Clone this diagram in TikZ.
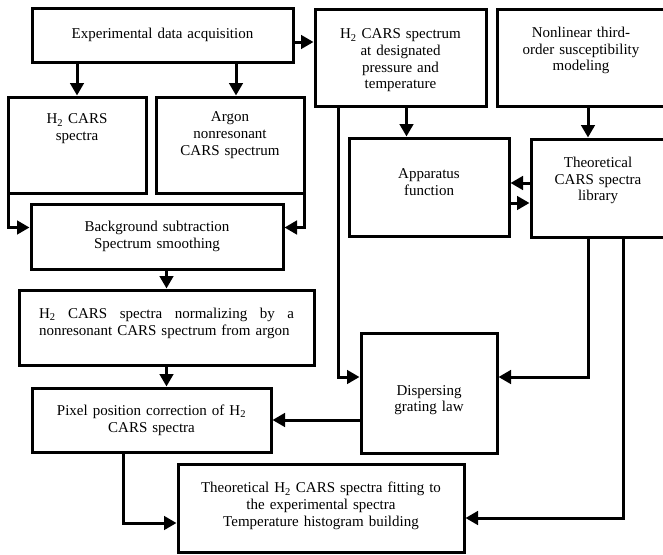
\documentclass[tikz,border=0pt]{standalone}
\usepackage{fontspec}
\setmainfont{Liberation Serif}
\usepackage{tikz}
\usetikzlibrary{arrows.meta}

\begin{document}
\begin{tikzpicture}[x=1pt, y=-1pt,
        box/.style={draw, line width=3pt, inner xsep=0pt, inner ysep=2pt, align=center, font=\fontsize{15}{16.7}\selectfont},
        flow/.style={-{Triangle[length=12.5pt, width=13.5pt]}, line width=3pt}
    ]
        \useasboundingbox (0,0) rectangle (663,554);
        \node[box, text width=261pt, minimum height=54pt] (acq) at (162.5,35) {Experimental data acquisition};
        \node[box, text width=138pt, minimum height=96pt, text depth=52pt] (h2spec) at (77,145) {H\textsubscript{2} CARS\\spectra};
        \node[box, text width=148pt, minimum height=96pt, text depth=56.7pt] (argon) at (230,145) {Argon\\nonresonant\\CARS spectrum};
        \node[box, text width=171pt, minimum height=97pt, text height=16pt] (target) at (400.5,57.5) {H\textsubscript{2} CARS spectrum\\at designated\\pressure and\\temperature};
        \node[box, text width=168pt, minimum height=97pt, text depth=50.7pt] (nonlin) at (581,57.5) {Nonlinear third-\\order susceptibility\\modeling};
        \node[box, text width=160pt, minimum height=98pt, text depth=26.9pt] (appar) at (429,187) {Apparatus\\function};
        \node[box, text width=134pt, minimum height=98pt, text depth=51.7pt] (theor) at (598,188) {Theoretical\\CARS spectra\\library};
        \node[box, text width=252pt, minimum height=65pt] (bkg) at (157,236.5) {Background subtraction\\Spectrum smoothing};
        \node[box, align=left, text width=255pt, inner xsep=20pt, minimum height=75pt, text depth=28pt] (norm) at (166.5,327.5) {H\textsubscript{2}\hfill CARS\hfill spectra\hfill normalizing\hfill by\hfill a\\nonresonant CARS spectrum from argon};
        \node[box, text width=136pt, minimum height=120pt, text height=24pt] (disp) at (429,393) {Dispersing\\grating law};
        \node[box, text width=239pt, minimum height=64pt] (pixel) at (151.5,420) {Pixel position correction of H\textsubscript{2}\\CARS spectra};
        \node[box, text width=286pt, minimum height=88pt, text depth=40.7pt] (fit) at (321,508) {Theoretical H\textsubscript{2} CARS spectra fitting to\\the experimental spectra\\Temperature histogram building};

        \draw[flow] (acq.south -| h2spec.north) -- (h2spec.north);
        \draw[flow] ([xshift=6pt]argon.north |- acq.south) -- ([xshift=6pt]argon.north);
        \draw[flow] ([yshift=-7pt]acq.east) -- ([yshift=-7pt]acq.east -| target.west);
        \draw[flow] ([xshift=2pt]h2spec.south west) |- ([yshift=9pt]bkg.west);
        \draw[flow] ([xshift=-1pt]argon.south east) |- ([yshift=9pt]bkg.east);
        \draw[flow] (bkg.south -| norm.north) -- (norm.north);
        \draw[flow] (norm.south) -- (norm.south |- pixel.north);
        \draw[flow] ([xshift=6pt]target.south) -- ([xshift=6pt]target.south |- appar.north);
        \draw[flow] ([xshift=7pt]nonlin.south) -- ([xshift=7pt]nonlin.south |- theor.north);
        \draw[flow] ([yshift=5pt]theor.west) -- ([yshift=5pt]theor.west -| appar.east);
        \draw[flow] ([yshift=-16pt]appar.east) -- ([yshift=-16pt]appar.east -| theor.west);
        \draw[flow] ([xshift=-62pt]target.south) |- ([yshift=16pt]disp.west);
        \draw[flow] ([xshift=-10pt]theor.south) |- ([yshift=16pt]disp.east);
        \draw[flow] ([xshift=25pt]theor.south) |- ([yshift=-10pt]fit.east);
        \draw[flow] (disp.west |- pixel.east) -- (pixel.east);
        \draw[flow] ([xshift=-28pt]pixel.south) |- ([yshift=-15pt]fit.west);
    \end{tikzpicture}
\end{document}
